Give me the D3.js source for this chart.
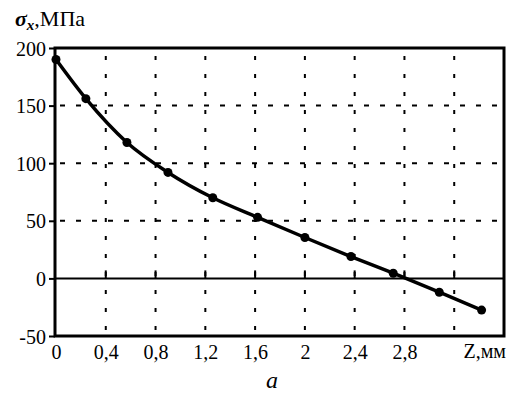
<!DOCTYPE html>
<html>
<head>
<meta charset="utf-8">
<script src="https://cdn.jsdelivr.net/npm/d3@7"></script>
<style>
  body { margin: 0; background: #fff; }
  svg { display: block; }
</style>
</head>
<body>
<svg width="507" height="399"></svg>
<script>
// values
const zValues = [0, 0.24, 0.57, 0.9, 1.26, 1.62, 2.0, 2.37, 2.71, 3.08, 3.42];
const sigmaValues = [190, 156, 118, 92, 70, 53, 35.5, 19, 4.5, -12, -27.5];
const xTicks = [0, 0.4, 0.8, 1.2, 1.6, 2, 2.4, 2.8, 3.2];
const yTicks = [-50, 0, 50, 100, 150, 200];

const serif = '"Liberation Serif", "Times New Roman", serif';

const svg = d3.select('svg');

const x = d3.scaleLinear().domain([0, 3.6]).range([56, 504]);
const y = d3.scaleLinear().domain([-50, 200]).range([336, 48]);

const points = zValues.map((z, i) => ({ z: z, s: sigmaValues[i] }));

// dotted vertical grid
svg.append('g')
  .selectAll('line')
  .data(xTicks.slice(1))
  .enter().append('line')
  .attr('x1', d => x(d)).attr('x2', d => x(d))
  .attr('y1', y(200) + 8).attr('y2', y(-50))
  .attr('stroke', '#000')
  .attr('stroke-width', 2)
  .attr('stroke-dasharray', '4,14')

// dashed horizontal grid
svg.append('g')
  .selectAll('line')
  .data([50, 100, 150])
  .enter().append('line')
  .attr('x1', x(0) + 4).attr('x2', x(3.6))
  .attr('y1', d => y(d)).attr('y2', d => y(d))
  .attr('stroke', '#000')
  .attr('stroke-width', 2)
  .attr('stroke-dasharray', '5,11')

// zero line with small upward ticks
svg.append('line')
  .attr('x1', x(0)).attr('x2', x(3.6))
  .attr('y1', y(0)).attr('y2', y(0))
  .attr('stroke', '#000').attr('stroke-width', 2)

svg.append('g')
  .selectAll('line')
  .data(xTicks.slice(1))
  .enter().append('line')
  .attr('x1', d => x(d)).attr('x2', d => x(d))
  .attr('y1', y(0)).attr('y2', y(0) - 8)
  .attr('stroke', '#000').attr('stroke-width', 2)

// frame
svg.append('rect')
  .attr('x', x(0) - 1).attr('y', y(200))
  .attr('width', x(3.6) - x(0) + 1).attr('height', y(-50) - y(200))
  .attr('fill', 'none')
  .attr('stroke', '#000')
  .attr('stroke-width', 3)

// y axis labels
const yAxis = svg.append('g')
  .attr('transform', `translate(${x(0) - 1},0)`)
  .call(d3.axisLeft(y).tickValues(yTicks).tickSize(6).tickPadding(3).tickFormat(d => d))
yAxis.attr('font-family', serif)
yAxis.select('.domain').remove()
yAxis.selectAll('line').attr('stroke-width', 2)
yAxis.selectAll('text')
  .attr('font-size', 20)
  .attr('fill', '#000')
  .attr('dy', '0.35em')

// x axis labels, the last tick carries the axis name instead
const xAxis = svg.append('g')
  .attr('transform', `translate(0,${y(-50)})`)
  .call(d3.axisBottom(x).tickValues(xTicks.slice(0, 8)).tickSize(0).tickPadding(8)
    .tickFormat(d => String(d).replace('.', ',')))
xAxis.attr('font-family', serif)
xAxis.select('.domain').remove()
xAxis.selectAll('text')
  .attr('font-size', 20)
  .attr('fill', '#000')
  .attr('dy', '0.75em')

svg.append('text')
  .attr('x', x(3.6) + 2)
  .attr('y', 358)
  .attr('text-anchor', 'end')
  .attr('font-size', 20)
  .attr('font-family', serif)
  .text('Z,мм')

// title
const title = svg.append('text')
  .attr('x', 15)
  .attr('y', 26)
  .attr('font-size', 22)
  .attr('font-family', serif)
title.append('tspan').attr('font-weight', 'bold').attr('font-style', 'italic').text('σ')
title.append('tspan').attr('font-weight', 'bold').attr('font-style', 'italic')
  .attr('font-size', 15).attr('dy', 4).text('x')
title.append('tspan').attr('dy', -4).text(',МПа')

// curve
const line = d3.line()
  .x(d => x(d.z))
  .y(d => y(d.s))
  .curve(d3.curveMonotoneX)

svg.append('path')
  .datum(points)
  .attr('d', line)
  .attr('fill', 'none')
  .attr('stroke', '#000')
  .attr('stroke-width', 3.5)

svg.append('g')
  .selectAll('circle')
  .data(points)
  .enter().append('circle')
  .attr('cx', d => x(d.z))
  .attr('cy', d => y(d.s))
  .attr('r', 4.5)
  .attr('fill', '#000')

// panel caption
svg.append('text')
  .attr('x', 272)
  .attr('y', 388)
  .attr('text-anchor', 'middle')
  .attr('font-size', 24)
  .attr('font-style', 'italic')
  .attr('font-family', serif)
  .text('a')
</script>
</body>
</html>
